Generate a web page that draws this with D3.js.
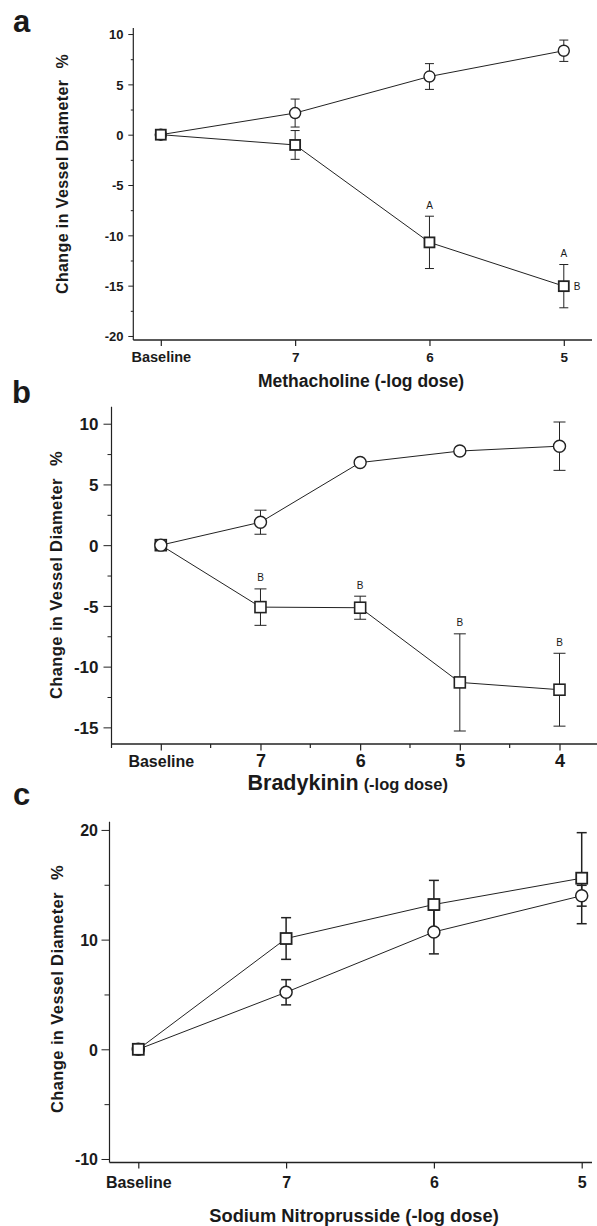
<!DOCTYPE html>
<html><head><meta charset="utf-8">
<script src="https://cdn.jsdelivr.net/npm/d3@7"></script>
<style>
body{margin:0;background:#fff}
svg{display:block}
text{font-family:"Liberation Sans",Arial,Helvetica,sans-serif;fill:#1a1a1a}
</style>
</head><body>
<svg id="chart" width="597" height="1226"></svg>
<script>
// ---------------- DATA ----------------
// Panel a: Methacholine
const catsA = ["Baseline", "7", "6", "5"];
const circleA = [0, 2.15, 5.78, 8.34];
const circleErrA = [0, 1.39, 1.28, 1.06];
const squareA = [0, -1.02, -10.7, -15.05];
const squareErrA = [0, 1.43, 2.6, 2.15];
const ticksA = [-20, -15, -10, -5, 0, 5, 10];
const minorTicksA = [-17.5, -12.5, -7.5, -2.5, 2.5, 7.5];
const notesA = [{cat: "6", text: "A"}, {cat: "5", text: "A"}];
const sideNotesA = [{cat: "5", text: "B"}];

// Panel b: Bradykinin
const catsB = ["Baseline", "7", "6", "5", "4"];
const circleB = [0, 1.89, 6.8, 7.75, 8.15];
const circleErrB = [0, 0.99, 0, 0, 1.99];
const squareB = [0, -5.1, -5.15, -11.3, -11.9];
const squareErrB = [0, 1.5, 0.95, 4.0, 3.0];
const ticksB = [-15, -10, -5, 0, 5, 10];
const minorTicksB = [-12.5, -7.5, -2.5, 2.5, 7.5];
const notesB = [{cat: "7", text: "B"}, {cat: "6", text: "B"}, {cat: "5", text: "B"}, {cat: "4", text: "B"}];
const sideNotesB = [];

// Panel c: Sodium Nitroprusside
const catsC = ["Baseline", "7", "6", "5"];
const circleC = [0, 5.2, 10.7, 14.0];
const circleErrC = [0, 1.15, 2.0, 0.95];
const squareC = [0, 10.1, 13.2, 15.6];
const squareErrC = [0, 1.9, 2.2, 4.15];
const ticksC = [-10, 0, 10, 20];
const minorTicksC = [-5, 5, 15];
const notesC = [];
const sideNotesC = [];

const yTitle = "Change in Vessel Diameter";
const yUnit = "%";
const titleA = "Methacholine (-log dose)";
const titleBmain = "Bradykinin";
const titleBsub = "(-log dose)";
const titleC = "Sodium Nitroprusside (-log dose)";

// ---------------- LAYOUT ----------------
const layoutA = {
  letter: "a", letterX: 13, letterY: 32,
  left: 133.3, right: 592, top: 28, bottom: 340, yDomain: [-20.4, 10.6], xRange: [160.8, 563.8],
  yTick: 5, yMinor: 2.5, yLabelRight: 123.5, yFont: 13,
  xTick: 6, xMinorMid: false, xLabelBase: 362, xFont: 13.5, baseFont: 14.5,
  yTitleX: 62, yTitleY: 174, yTitleFont: 16, unitGap: 11,
  cap: 9, errW: 1, markR: 5.5, sq: 10, sqW: 1.8, cW: 1.4, circleOnTop: false,
  noteOff: 11, noteFont: 10
};
const layoutB = {
  letter: "b", letterX: 12, letterY: 403,
  left: 111.5, right: 597, top: 406.7, bottom: 744, yDomain: [-16.37, 11.4], xRange: [160.8, 559.5],
  yTick: 8, yMinor: 4, yLabelRight: 98.5, yFont: 17,
  xTick: 6.5, xMinorMid: true, xLabelBase: 767, xFont: 18, baseFont: 16,
  yTitleX: 56, yTitleY: 575, yTitleFont: 16.5, unitGap: 12,
  cap: 12, errW: 1, markR: 6, sq: 11, sqW: 1.6, cW: 1.4, circleOnTop: true,
  noteOff: 11, noteFont: 10
};
const layoutC = {
  letter: "c", letterX: 13, letterY: 805,
  left: 109.5, right: 592, top: 821.7, bottom: 1162.5, yDomain: [-10.32, 20.75], xRange: [138.3, 581.7],
  yTick: 8, yMinor: 5, yLabelRight: 98, yFont: 16,
  xTick: 6, xMinorMid: false, xLabelBase: 1188, xFont: 16, baseFont: 16,
  yTitleX: 56.6, yTitleY: 989, yTitleFont: 16.5, unitGap: 12,
  cap: 10, errW: 1.5, markR: 6, sq: 11, sqW: 1.8, cW: 1.5, circleOnTop: false,
  noteOff: 11, noteFont: 10
};

const svg = d3.select("#chart");

function drawPanel(L, D) {
  const g = svg.append("g").style("font-weight", "bold");
  const y = d3.scaleLinear().domain(L.yDomain).range([L.bottom, L.top]);
  const x = d3.scalePoint().domain(D.cats).range(L.xRange);

  // panel letter
  g.append("text").attr("x", L.letterX).attr("y", L.letterY)
    .attr("font-size", 31).text(L.letter);

  // y axis (major)
  const ya = g.append("g").attr("transform", `translate(${L.left},0)`)
    .call(d3.axisLeft(y).tickValues(D.ticks).tickSize(L.yTick).tickFormat(d => String(d)));
  ya.select(".domain").remove();
  ya.selectAll("line").attr("stroke", "#222").attr("stroke-width", 1);
  ya.selectAll("text").attr("x", L.yLabelRight - L.left).attr("dy", "0.36em")
    .attr("font-size", L.yFont).attr("font-family", null).attr("fill", "#1a1a1a");
  // y minor ticks
  const ym = g.append("g").attr("transform", `translate(${L.left},0)`)
    .call(d3.axisLeft(y).tickValues(D.minor).tickSize(L.yMinor).tickFormat(""));
  ym.select(".domain").remove();
  ym.selectAll("line").attr("stroke", "#222").attr("stroke-width", 1);

  // x axis
  const xa = g.append("g").attr("transform", `translate(0,${L.bottom})`)
    .call(d3.axisBottom(x).tickSize(L.xTick));
  xa.select(".domain").remove();
  xa.selectAll("line").attr("stroke", "#222").attr("stroke-width", 1.2);
  xa.selectAll("text").attr("y", L.xLabelBase - L.bottom).attr("dy", 0)
    .attr("font-size", d => d === "Baseline" ? L.baseFont : L.xFont)
    .attr("font-family", null).attr("fill", "#1a1a1a");
  if (L.xMinorMid) {
    const c = D.cats;
    const mids = [L.left];
    for (let i = 0; i < c.length - 1; i++) mids.push((x(c[i]) + x(c[i + 1])) / 2);
    g.selectAll(".xminor").data(mids).join("line")
      .attr("x1", d => d).attr("x2", d => d)
      .attr("y1", L.bottom).attr("y2", L.bottom + 4)
      .attr("stroke", "#222").attr("stroke-width", 1.2);
  }

  // axis lines
  g.append("line").attr("x1", L.left).attr("x2", L.left).attr("y1", L.top).attr("y2", L.bottom)
    .attr("stroke", "#222").attr("stroke-width", 1.2);
  g.append("line").attr("x1", L.left).attr("x2", L.right).attr("y1", L.bottom).attr("y2", L.bottom)
    .attr("stroke", "#222").attr("stroke-width", 1.6);

  // y title
  const yt = g.append("text")
    .attr("transform", `translate(${L.yTitleX},${L.yTitleY}) rotate(-90)`)
    .attr("text-anchor", "middle").attr("dy", "0.36em")
    .attr("font-size", L.yTitleFont).attr("letter-spacing", 0.4);
  yt.append("tspan").text(D.yTitle);
  yt.append("tspan").attr("dx", L.unitGap).text(D.yUnit);

  // x title
  D.drawTitle(g);

  const series = [
    {vals: D.square, err: D.squareErr, type: "square"},
    {vals: D.circle, err: D.circleErr, type: "circle"}
  ];
  if (!L.circleOnTop) series.reverse();

  const line = d3.line().x((d, i) => x(D.cats[i])).y(d => y(d));
  series.forEach(s => {
    g.append("path").datum(s.vals).attr("d", line)
      .attr("fill", "none").attr("stroke", "#222").attr("stroke-width", 1);
  });
  series.forEach(s => {
    const pts = s.vals.map((v, i) => ({c: D.cats[i], v, e: s.err[i]})).filter(p => p.e > 0);
    const eg = g.append("g").attr("stroke", "#222").attr("stroke-width", L.errW);
    eg.selectAll(".v").data(pts).join("line")
      .attr("x1", p => x(p.c)).attr("x2", p => x(p.c))
      .attr("y1", p => y(p.v + p.e)).attr("y2", p => y(p.v - p.e));
    eg.selectAll(".t").data(pts).join("line")
      .attr("x1", p => x(p.c) - L.cap / 2).attr("x2", p => x(p.c) + L.cap / 2)
      .attr("y1", p => y(p.v + p.e)).attr("y2", p => y(p.v + p.e));
    eg.selectAll(".b").data(pts).join("line")
      .attr("x1", p => x(p.c) - L.cap / 2).attr("x2", p => x(p.c) + L.cap / 2)
      .attr("y1", p => y(p.v - p.e)).attr("y2", p => y(p.v - p.e));
  });
  series.forEach(s => {
    const pts = s.vals.map((v, i) => ({c: D.cats[i], v}));
    if (s.type === "circle") {
      g.selectAll(null).data(pts).join("circle")
        .attr("cx", p => x(p.c)).attr("cy", p => y(p.v)).attr("r", L.markR)
        .attr("fill", "#fff").attr("stroke", "#222").attr("stroke-width", L.cW);
    } else {
      g.selectAll(null).data(pts).join("rect")
        .attr("x", p => x(p.c) - L.sq / 2).attr("y", p => y(p.v) - L.sq / 2)
        .attr("width", L.sq).attr("height", L.sq)
        .attr("fill", "#fff").attr("stroke", "#222").attr("stroke-width", L.sqW);
    }
  });

  // significance notes above square error bars
  D.notes.forEach(n => {
    const i = D.cats.indexOf(n.cat);
    g.append("text").attr("x", x(n.cat)).attr("y", y(D.square[i] + D.squareErr[i]) - L.noteOff)
      .attr("text-anchor", "middle").attr("dy", "0.35em")
      .attr("font-size", L.noteFont).style("font-weight", "normal").text(n.text);
  });
  D.sideNotes.forEach(n => {
    const i = D.cats.indexOf(n.cat);
    g.append("text").attr("x", x(n.cat) + L.sq / 2 + 5).attr("y", y(D.square[i]))
      .attr("dy", "0.35em").attr("font-size", L.noteFont).style("font-weight", "normal").text(n.text);
  });
}

drawPanel(layoutA, {
  cats: catsA, circle: circleA, circleErr: circleErrA, square: squareA, squareErr: squareErrA,
  ticks: ticksA, minor: minorTicksA, notes: notesA, sideNotes: sideNotesA,
  yTitle, yUnit,
  drawTitle: g => g.append("text").attr("x", 361).attr("y", 387).attr("text-anchor", "middle")
    .attr("font-size", 17.5).text(titleA)
});
drawPanel(layoutB, {
  cats: catsB, circle: circleB, circleErr: circleErrB, square: squareB, squareErr: squareErrB,
  ticks: ticksB, minor: minorTicksB, notes: notesB, sideNotes: sideNotesB,
  yTitle, yUnit,
  drawTitle: g => {
    const t = g.append("text").attr("x", 247.5).attr("y", 790);
    t.append("tspan").attr("font-size", 21.5).text(titleBmain);
    t.append("tspan").attr("dx", 5).attr("font-size", 16.5).text(titleBsub);
  }
});
drawPanel(layoutC, {
  cats: catsC, circle: circleC, circleErr: circleErrC, square: squareC, squareErr: squareErrC,
  ticks: ticksC, minor: minorTicksC, notes: notesC, sideNotes: sideNotesC,
  yTitle, yUnit,
  drawTitle: g => g.append("text").attr("x", 354).attr("y", 1221.5).attr("text-anchor", "middle")
    .attr("font-size", 18.3).text(titleC)
});
</script>
</body></html>
